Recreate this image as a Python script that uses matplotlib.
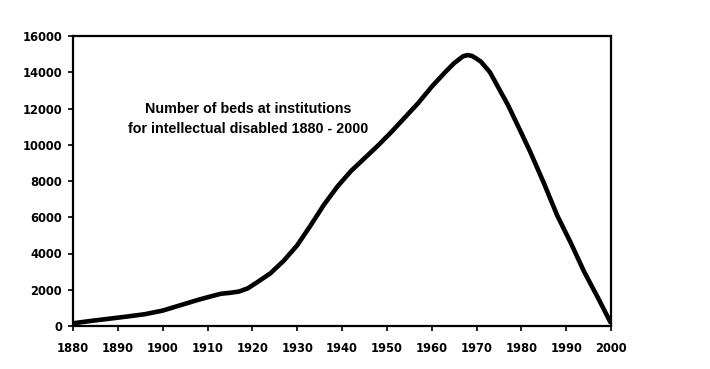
import matplotlib
matplotlib.use('Agg')
import matplotlib.pyplot as plt

plt.rcParams['font.family'] = ['Liberation Sans', 'DejaVu Sans']

# values
years = [1880, 1884, 1888, 1892, 1896, 1900, 1904, 1908, 1911, 1913, 1915, 1917,
         1919, 1921, 1924, 1927, 1930, 1933, 1936, 1939, 1942, 1945, 1948, 1951,
         1954, 1957, 1960, 1963, 1965, 1967, 1968, 1969, 1970, 1971, 1973, 1975,
         1977, 1980, 1982, 1985, 1988, 1991, 1994, 1997, 2000]
beds = [150, 280, 400, 520, 650, 850, 1150, 1450, 1650, 1780, 1830, 1900,
        2080, 2400, 2900, 3600, 4450, 5550, 6700, 7700, 8550, 9250, 9950, 10700,
        11500, 12300, 13200, 14000, 14500, 14880, 14950, 14900, 14750, 14580, 14000, 13100,
        12200, 10650, 9600, 7900, 6100, 4600, 3000, 1600, 150]

x_ticks = list(range(1880, 2001, 10))
y_ticks = list(range(0, 16001, 2000))
label_text = "Number of beds at institutions\nfor intellectual disabled 1880 - 2000"

fig = plt.figure(figsize=(7.1, 3.69), dpi=100)
ax = fig.add_axes([73 / 710, 1 - 326 / 369, 538 / 710, 290 / 369])

ax.plot(years, beds, color='black', linewidth=3.3, solid_capstyle='butt',
        solid_joinstyle='round')

ax.set_xlim(1880, 2000)
ax.set_ylim(0, 16000)
ax.set_xticks(x_ticks)
ax.set_yticks(y_ticks)
ax.tick_params(direction='out', length=3.8, width=1.2, colors='black')
ax.tick_params(axis='y', pad=4)
ax.tick_params(axis='x', pad=8)
for lbl in ax.get_xticklabels() + ax.get_yticklabels():
    lbl.set_family('DejaVu Sans')
    lbl.set_fontweight('bold')
    lbl.set_fontsize(8.3)
for s in ax.spines.values():
    s.set_linewidth(1.6)

ax.text(1919, 11440, label_text, ha='center', va='center', fontsize=10.25,
        fontweight='bold', linespacing=1.55)

fig.savefig('out.png', dpi=100, facecolor='white')
